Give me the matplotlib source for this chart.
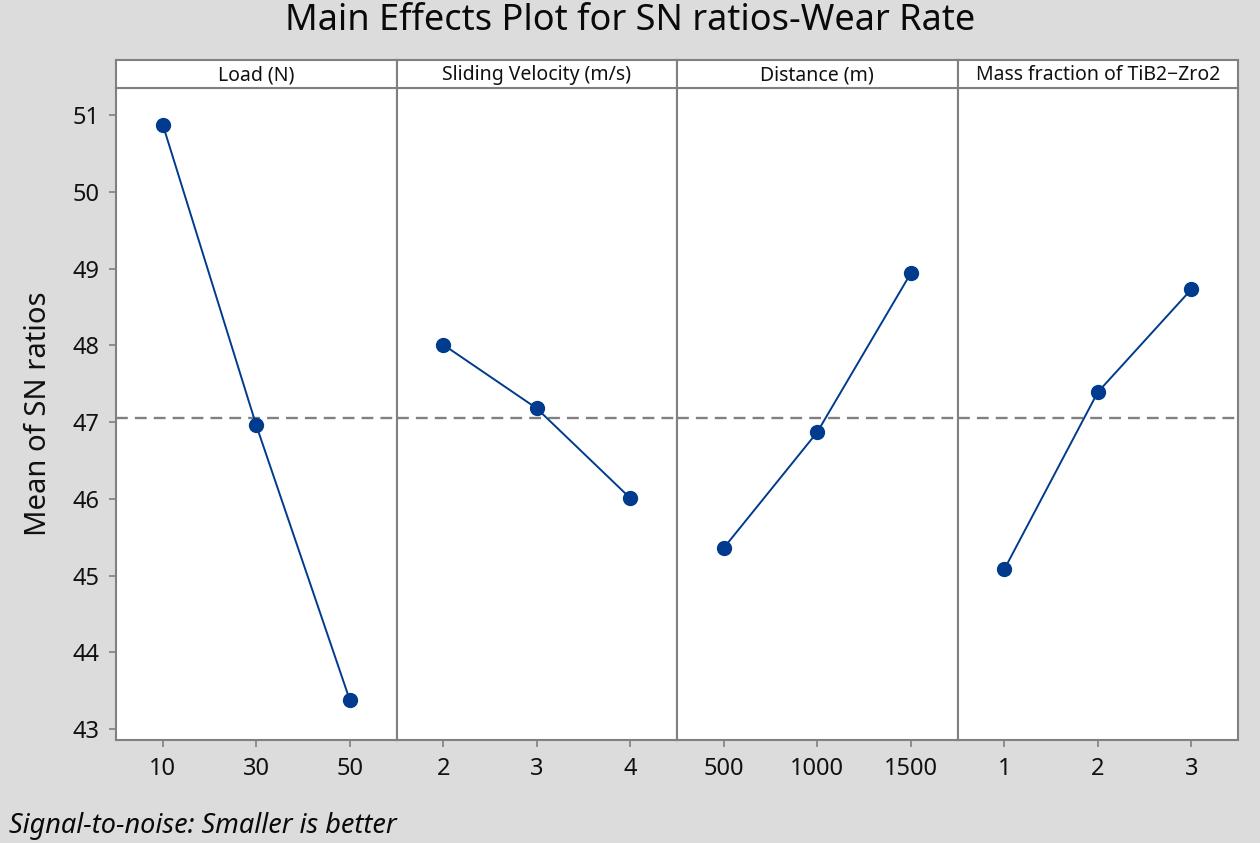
import numpy as np
import matplotlib
matplotlib.use('Agg')
import matplotlib.pyplot as plt

plt.rcParams['font.family'] = ['Noto Sans', 'DejaVu Sans']

factors = ['Load (N)', 'Sliding Velocity (m/s)', 'Distance (m)', 'Mass fraction of TiB2\u2212Zro2']
levels = [['10', '30', '50'], ['2', '3', '4'], ['500', '1000', '1500'], ['1', '2', '3']]
load_sn = [50.88, 46.96, 43.38]
velocity_sn = [48.01, 47.18, 46.01]
distance_sn = [45.36, 46.87, 48.94]
mass_sn = [45.08, 47.39, 48.73]
grand_mean = 47.06
yticks = [43, 44, 45, 46, 47, 48, 49, 50, 51]

series = [load_sn, velocity_sn, distance_sn, mass_sn]

bg = '#dcdcdc'
edge = '#808080'
blue = '#003b8e'
txt = '#111111'

fig = plt.figure(figsize=(12.6, 8.43), dpi=100, facecolor=bg)

left, right = 116 / 1260, 1238 / 1260
bottom, top, head_top = 1 - 740 / 843, 1 - 88 / 843, 1 - 60 / 843
w = (right - left) / 4

for i in range(4):
    x0 = left + i * w
    ax = fig.add_axes([x0, bottom, w, top - bottom])
    ax.set_facecolor('white')
    xs = np.arange(3)
    ax.plot(xs, series[i], '-', color=blue, lw=1.4, marker='o', ms=10, mfc=blue, mec=blue)
    ax.axhline(grand_mean, color=edge, ls=(0, (5, 3)), lw=1.7, zorder=0)
    ax.set_xlim(-0.5, 2.5)
    ax.set_ylim(42.857, 51.356)
    ax.set_xticks(xs)
    ax.set_xticklabels(levels[i], fontsize=17, color=txt)
    ax.set_yticks(yticks)
    ax.tick_params(axis='both', direction='out', length=5, width=1.2, color=edge, pad=7)
    if i == 0:
        ax.set_yticklabels([str(t) for t in yticks], fontsize=17, color=txt)
        ax.set_ylabel('Mean of SN ratios', fontsize=21, color=txt, labelpad=14)
    else:
        ax.tick_params(axis='y', left=False, labelleft=False)
    for s in ax.spines.values():
        s.set_color(edge)
        s.set_linewidth(1.5)

    hx = fig.add_axes([x0, top, w, head_top - top])
    hx.set_facecolor('white')
    hx.set_xticks([])
    hx.set_yticks([])
    for s in hx.spines.values():
        s.set_color(edge)
        s.set_linewidth(1.5)
    hx.text(0.5, 0.45, factors[i], ha='center', va='center', fontsize=14, color=txt,
            transform=hx.transAxes)

fig.text(0.5, 1 - 21 / 843, 'Main Effects Plot for SN ratios-Wear Rate', ha='center', va='center',
         fontsize=26, color='#0a0a0a')
fig.text(9 / 1260, 1 - 826 / 843, 'Signal-to-noise: Smaller is better', ha='left', va='center',
         fontsize=19.5, style='italic', color='#0a0a0a')

fig.savefig('out.png', dpi=100, facecolor=bg)
